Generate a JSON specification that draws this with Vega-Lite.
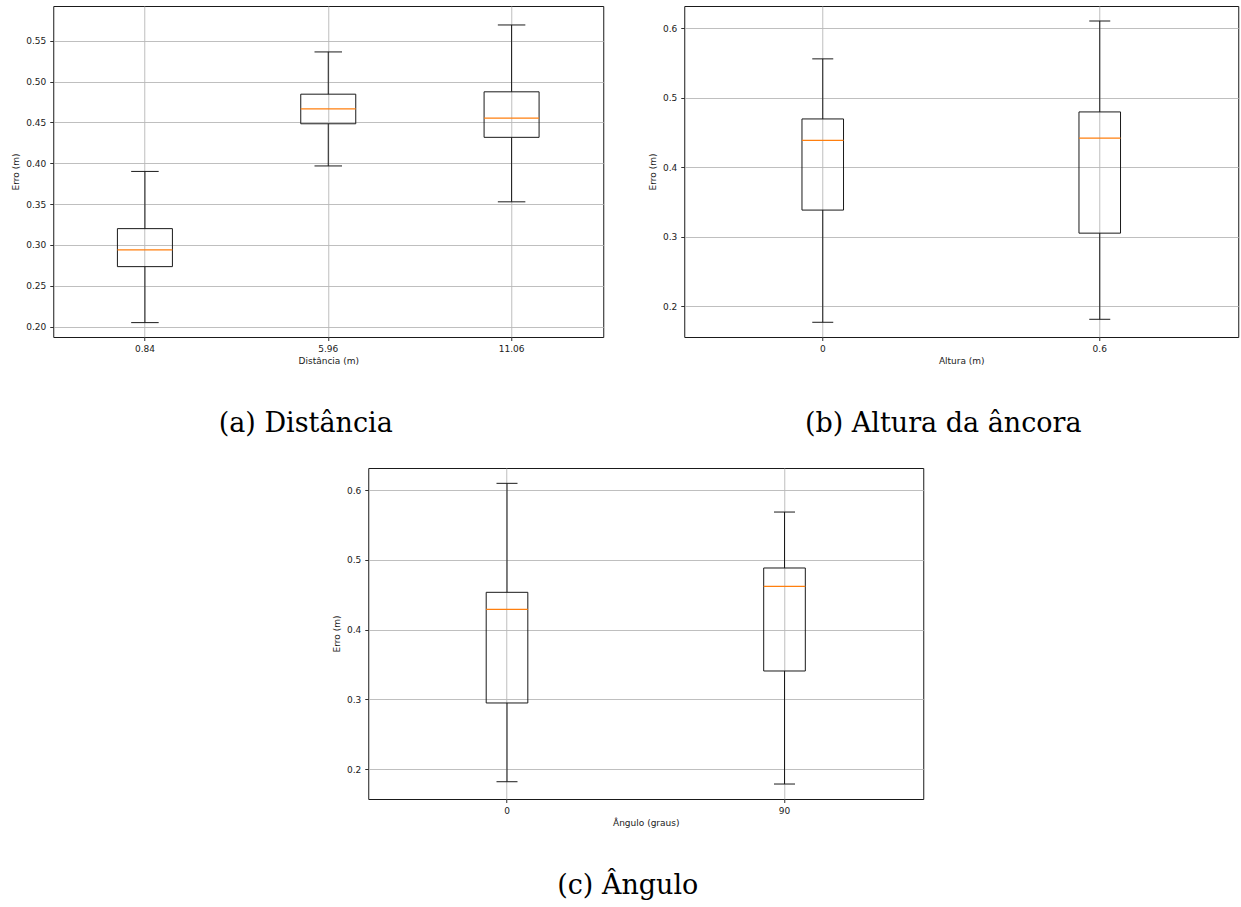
{
  "$schema": "https://vega.github.io/schema/vega-lite/v6.json",
  "padding": {"left": 11, "top": 5, "right": 3, "bottom": 3},
  "background": "white",
  "datasets": {
    "dist": [
      {"cat": "0.84", "lower": 0.205, "q1": 0.2735, "median": 0.294, "q3": 0.320, "upper": 0.390},
      {"cat": "5.96", "lower": 0.3967, "q1": 0.4483, "median": 0.4666, "q3": 0.4845, "upper": 0.5362},
      {"cat": "11.06", "lower": 0.3528, "q1": 0.4317, "median": 0.4553, "q3": 0.4874, "upper": 0.5692}
    ],
    "alt": [
      {"cat": "0", "lower": 0.177, "q1": 0.3385, "median": 0.4389, "q3": 0.4697, "upper": 0.5562},
      {"cat": "0.6", "lower": 0.1813, "q1": 0.3053, "median": 0.4422, "q3": 0.4798, "upper": 0.6107}
    ],
    "ang": [
      {"cat": "0", "lower": 0.1818, "q1": 0.2948, "median": 0.4291, "q3": 0.4536, "upper": 0.610},
      {"cat": "90", "lower": 0.1785, "q1": 0.3407, "median": 0.4621, "q3": 0.4885, "upper": 0.5688}
    ]
  },
  "center": true,
  "spacing": 30,
  "vconcat": [
    {
      "bounds": "flush",
      "spacing": 81,
      "hconcat": [
        {
          "width": 550,
          "height": 331,
          "data": {"name": "dist"},
          "title": {"text": "(a) Distância", "orient": "bottom", "dx": -22.5},
          "encoding": {
            "x": {"field": "cat", "type": "nominal", "sort": null, "scale": {"paddingInner": 0, "paddingOuter": 0},
                  "axis": {"title": "Distância (m)", "bandPosition": 0.5}}
          },
          "layer": [
            {"mark": {"type": "rule", "color": "#1a1a1a", "strokeWidth": 1},
             "encoding": {"y": {"field": "lower", "type": "quantitative", "scale": {"domain": [0.1874, 0.5924], "nice": false, "zero": false},
                                "axis": {"title": "Erro (m)", "values": [0.2, 0.25, 0.3, 0.35, 0.4, 0.45, 0.5, 0.55], "format": ".2f"}},
                          "y2": {"field": "q1"}}},
            {"mark": {"type": "rule", "color": "#1a1a1a", "strokeWidth": 1},
             "encoding": {"y": {"field": "q3", "type": "quantitative", "scale": {"domain": [0.1874, 0.5924], "nice": false, "zero": false},
                                "axis": {"title": "Erro (m)", "values": [0.2, 0.25, 0.3, 0.35, 0.4, 0.45, 0.5, 0.55], "format": ".2f"}},
                          "y2": {"field": "upper"}}},
            {"mark": {"type": "bar", "width": {"band": 0.3}, "fill": "transparent", "stroke": "#1a1a1a", "strokeWidth": 1},
             "encoding": {"y": {"field": "q1", "type": "quantitative", "scale": {"domain": [0.1874, 0.5924], "nice": false, "zero": false},
                                "axis": {"title": "Erro (m)", "values": [0.2, 0.25, 0.3, 0.35, 0.4, 0.45, 0.5, 0.55], "format": ".2f"}},
                          "y2": {"field": "q3"}}},
            {"mark": {"type": "tick", "orient": "horizontal", "size": 27.5, "thickness": 1, "color": "#1a1a1a", "opacity": 1},
             "encoding": {"y": {"field": "lower", "type": "quantitative", "scale": {"domain": [0.1874, 0.5924], "nice": false, "zero": false},
                                "axis": {"title": "Erro (m)", "values": [0.2, 0.25, 0.3, 0.35, 0.4, 0.45, 0.5, 0.55], "format": ".2f"}}}},
            {"mark": {"type": "tick", "orient": "horizontal", "size": 27.5, "thickness": 1, "color": "#1a1a1a", "opacity": 1},
             "encoding": {"y": {"field": "upper", "type": "quantitative", "scale": {"domain": [0.1874, 0.5924], "nice": false, "zero": false},
                                "axis": {"title": "Erro (m)", "values": [0.2, 0.25, 0.3, 0.35, 0.4, 0.45, 0.5, 0.55], "format": ".2f"}}}},
            {"mark": {"type": "tick", "orient": "horizontal", "size": 55, "thickness": 1.3, "color": "#ff7f0e", "opacity": 1},
             "encoding": {"y": {"field": "median", "type": "quantitative", "scale": {"domain": [0.1874, 0.5924], "nice": false, "zero": false},
                                "axis": {"title": "Erro (m)", "values": [0.2, 0.25, 0.3, 0.35, 0.4, 0.45, 0.5, 0.55], "format": ".2f"}}}}
          ]
        },
        {
          "width": 554,
          "height": 331,
          "data": {"name": "alt"},
          "title": {"text": "(b) Altura da âncora", "orient": "bottom", "dx": -18},
          "encoding": {
            "x": {"field": "cat", "type": "nominal", "sort": null, "scale": {"paddingInner": 0, "paddingOuter": 0},
                  "axis": {"title": "Altura (m)", "bandPosition": 0.5}}
          },
          "layer": [
            {"mark": {"type": "rule", "color": "#1a1a1a", "strokeWidth": 1},
             "encoding": {"y": {"field": "lower", "type": "quantitative", "scale": {"domain": [0.1558, 0.6323], "nice": false, "zero": false},
                                "axis": {"title": "Erro (m)", "values": [0.2, 0.3, 0.4, 0.5, 0.6], "format": ".1f"}},
                          "y2": {"field": "q1"}}},
            {"mark": {"type": "rule", "color": "#1a1a1a", "strokeWidth": 1},
             "encoding": {"y": {"field": "q3", "type": "quantitative", "scale": {"domain": [0.1558, 0.6323], "nice": false, "zero": false},
                                "axis": {"title": "Erro (m)", "values": [0.2, 0.3, 0.4, 0.5, 0.6], "format": ".1f"}},
                          "y2": {"field": "upper"}}},
            {"mark": {"type": "bar", "width": {"band": 0.15}, "fill": "transparent", "stroke": "#1a1a1a", "strokeWidth": 1},
             "encoding": {"y": {"field": "q1", "type": "quantitative", "scale": {"domain": [0.1558, 0.6323], "nice": false, "zero": false},
                                "axis": {"title": "Erro (m)", "values": [0.2, 0.3, 0.4, 0.5, 0.6], "format": ".1f"}},
                          "y2": {"field": "q3"}}},
            {"mark": {"type": "tick", "orient": "horizontal", "size": 21, "thickness": 1, "color": "#1a1a1a", "opacity": 1},
             "encoding": {"y": {"field": "lower", "type": "quantitative", "scale": {"domain": [0.1558, 0.6323], "nice": false, "zero": false},
                                "axis": {"title": "Erro (m)", "values": [0.2, 0.3, 0.4, 0.5, 0.6], "format": ".1f"}}}},
            {"mark": {"type": "tick", "orient": "horizontal", "size": 21, "thickness": 1, "color": "#1a1a1a", "opacity": 1},
             "encoding": {"y": {"field": "upper", "type": "quantitative", "scale": {"domain": [0.1558, 0.6323], "nice": false, "zero": false},
                                "axis": {"title": "Erro (m)", "values": [0.2, 0.3, 0.4, 0.5, 0.6], "format": ".1f"}}}},
            {"mark": {"type": "tick", "orient": "horizontal", "size": 41.6, "thickness": 1.3, "color": "#ff7f0e", "opacity": 1},
             "encoding": {"y": {"field": "median", "type": "quantitative", "scale": {"domain": [0.1558, 0.6323], "nice": false, "zero": false},
                                "axis": {"title": "Erro (m)", "values": [0.2, 0.3, 0.4, 0.5, 0.6], "format": ".1f"}}}}
          ]
        }
      ]
    },
    {
      "width": 555,
      "height": 331,
      "data": {"name": "ang"},
      "title": {"text": "(c) Ângulo", "orient": "bottom", "dx": -18},
      "encoding": {
        "x": {"field": "cat", "type": "nominal", "sort": null, "scale": {"paddingInner": 0, "paddingOuter": 0},
              "axis": {"title": "Ângulo (graus)", "bandPosition": 0.5}}
      },
      "layer": [
        {"mark": {"type": "rule", "color": "#1a1a1a", "strokeWidth": 1},
         "encoding": {"y": {"field": "lower", "type": "quantitative", "scale": {"domain": [0.157, 0.632], "nice": false, "zero": false},
                            "axis": {"title": "Erro (m)", "values": [0.2, 0.3, 0.4, 0.5, 0.6], "format": ".1f"}},
                      "y2": {"field": "q1"}}},
        {"mark": {"type": "rule", "color": "#1a1a1a", "strokeWidth": 1},
         "encoding": {"y": {"field": "q3", "type": "quantitative", "scale": {"domain": [0.157, 0.632], "nice": false, "zero": false},
                            "axis": {"title": "Erro (m)", "values": [0.2, 0.3, 0.4, 0.5, 0.6], "format": ".1f"}},
                      "y2": {"field": "upper"}}},
        {"mark": {"type": "bar", "width": {"band": 0.15}, "fill": "transparent", "stroke": "#1a1a1a", "strokeWidth": 1},
         "encoding": {"y": {"field": "q1", "type": "quantitative", "scale": {"domain": [0.157, 0.632], "nice": false, "zero": false},
                            "axis": {"title": "Erro (m)", "values": [0.2, 0.3, 0.4, 0.5, 0.6], "format": ".1f"}},
                      "y2": {"field": "q3"}}},
        {"mark": {"type": "tick", "orient": "horizontal", "size": 21, "thickness": 1, "color": "#1a1a1a", "opacity": 1},
         "encoding": {"y": {"field": "lower", "type": "quantitative", "scale": {"domain": [0.157, 0.632], "nice": false, "zero": false},
                            "axis": {"title": "Erro (m)", "values": [0.2, 0.3, 0.4, 0.5, 0.6], "format": ".1f"}}}},
        {"mark": {"type": "tick", "orient": "horizontal", "size": 21, "thickness": 1, "color": "#1a1a1a", "opacity": 1},
         "encoding": {"y": {"field": "upper", "type": "quantitative", "scale": {"domain": [0.157, 0.632], "nice": false, "zero": false},
                            "axis": {"title": "Erro (m)", "values": [0.2, 0.3, 0.4, 0.5, 0.6], "format": ".1f"}}}},
        {"mark": {"type": "tick", "orient": "horizontal", "size": 41.6, "thickness": 1.3, "color": "#ff7f0e", "opacity": 1},
         "encoding": {"y": {"field": "median", "type": "quantitative", "scale": {"domain": [0.157, 0.632], "nice": false, "zero": false},
                            "axis": {"title": "Erro (m)", "values": [0.2, 0.3, 0.4, 0.5, 0.6], "format": ".1f"}}}}
      ]
    }
  ],
  "config": {
    "font": "DejaVu Sans",
    "view": {"stroke": "#1a1a1a", "strokeWidth": 1},
    "axis": {
      "domain": false,
      "grid": true,
      "gridColor": "#b8b8b8",
      "gridWidth": 0.9,
      "tickColor": "#1a1a1a",
      "tickSize": 3.5,
      "tickWidth": 0.9,
      "labelFont": "DejaVu Sans",
      "labelFontSize": 9,
      "labelColor": "#1a1a1a",
      "labelPadding": 4,
      "titleFont": "DejaVu Sans",
      "titleFontSize": 9,
      "titleFontWeight": "normal",
      "titleColor": "#1a1a1a"
    },
    "axisX": {"labelAngle": 0, "titlePadding": 3},
    "axisY": {"titlePadding": 5},
    "title": {
      "font": "DejaVu Serif",
      "fontSize": 27,
      "fontWeight": "normal",
      "color": "#000000",
      "anchor": "middle",
      "offset": 45
    }
  }
}
